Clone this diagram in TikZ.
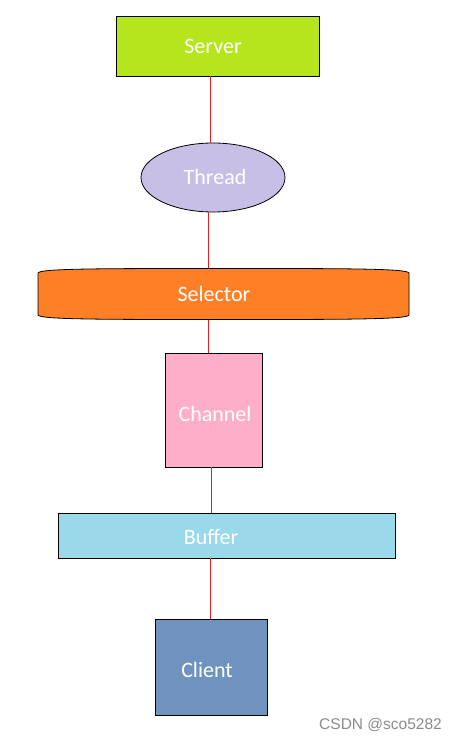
\documentclass[tikz,border=0pt]{standalone}
\usepackage{fontspec}
\setmainfont{Carlito}
\newfontfamily\wmfont{Liberation Sans}
\usetikzlibrary{shapes.geometric}
\definecolor{srvc}{RGB}{181,230,29}
\definecolor{thrc}{RGB}{200,191,231}
\definecolor{selc}{RGB}{255,127,39}
\definecolor{chnc}{RGB}{255,174,201}
\definecolor{bufc}{RGB}{153,217,234}
\definecolor{clic}{RGB}{112,146,190}
\definecolor{linkc}{RGB}{237,28,36}
\tikzset{
  lbl/.style={text=white, font=\fontsize{22}{26}\selectfont},
  box/.style={draw=black, line width=0.8pt, inner sep=0pt, lbl},
  link/.style={draw=linkc, line width=0.8pt},
}
\begin{document}
\begin{tikzpicture}[x=1pt,y=-1pt]
\useasboundingbox[fill=white] (0,0) rectangle (456,741);
\node[box, fill=srvc, minimum width=203, minimum height=60] (server) at (217.5,46) {};
\node[lbl] (servert) at (213,46) {Server};
\node[box, ellipse, fill=thrc, minimum width=144, minimum height=69] (thread) at (213,177.5) {};
\node[lbl] (threadt) at (215,177) {Thread};
\path[box, fill=selc] (38,273) .. controls (40,268.5) and (100,268.5) .. (223.5,268.5)
  .. controls (347,268.5) and (407,268.5) .. (409,273) -- (409,315)
  .. controls (407,319.5) and (347,319.5) .. (223.5,319.5)
  .. controls (100,319.5) and (40,319.5) .. (38,315) -- cycle;
\node[lbl, minimum width=371, minimum height=51, inner sep=0pt] (selector) at (223.5,294) {\hspace*{-19pt}Selector};
\node[box, fill=chnc, minimum width=97, minimum height=114] (channel) at (213.5,410) {};
\node[lbl] (channelt) at (215,414) {Channel};
\node[box, fill=bufc, minimum width=337, minimum height=45] (buffer) at (226.5,535.5) {};
\node[lbl] (buffert) at (211,537) {Buffer};
\node[box, fill=clic, minimum width=112, minimum height=96] (client) at (211,667) {};
\node[lbl] (clientt) at (207,670) {Client};
\draw[link] (server.south -| 210,0) -- (thread.north -| 210,0);
\draw[link] (thread.south -| 208,0) -- (selector.north -| 208,0);
\draw[link] (selector.south -| 208,0) -- (channel.north -| 208,0);
\draw[link] (channel.south -| 211,0) -- (buffer.north -| 211,0);
\draw[link] (buffer.south -| 210,0) -- (client.north -| 210,0);
\node[text=black!45, font=\wmfont\fontsize{15.5}{18}\selectfont, anchor=east, inner sep=0pt] (wm) at (442,725) {CSDN @sco5282};
\end{tikzpicture}
\end{document}
